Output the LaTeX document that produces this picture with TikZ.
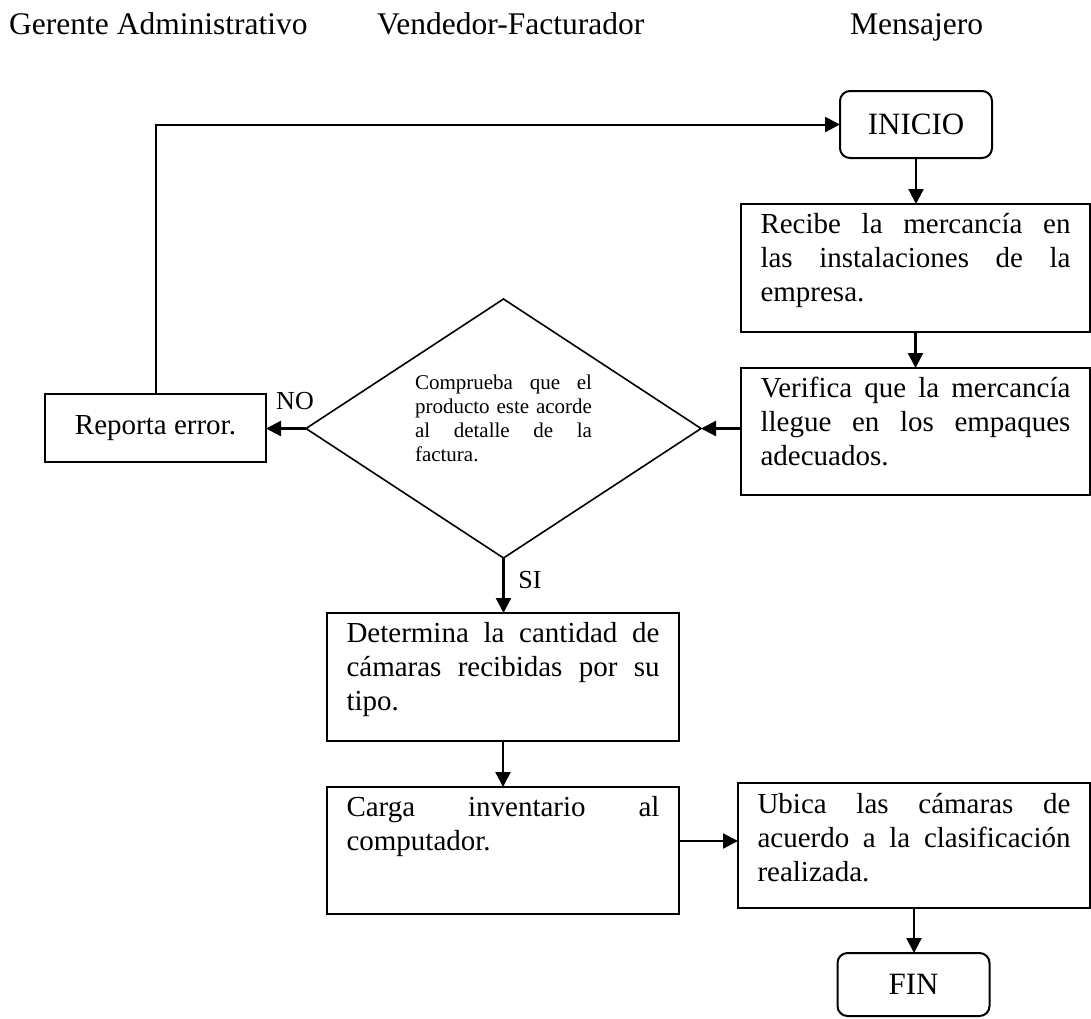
\documentclass[tikz,border=0pt]{standalone}
\usepackage{fontspec}
\setmainfont{Liberation Serif}
\usetikzlibrary{shapes.geometric,arrows.meta}
\newcommand{\boxfont}{\fontsize{29pt}{34pt}\selectfont}
\begin{document}
\begin{tikzpicture}[x=1pt,y=-1pt,
  procbox/.style={draw, line width=2pt, rectangle, align=justify, inner ysep=0pt,
    inner xsep=19.5pt, outer sep=0pt, anchor=north west, text width=#1, font=\boxfont},
  procbox/.default=310pt,
  terminal/.style={draw, line width=2pt, rounded corners=10pt, minimum width=152pt,
    inner sep=0pt, outer sep=0pt, font=\fontsize{31pt}{36pt}\selectfont},
  decision/.style={draw, diamond, line width=1.6pt, minimum width=395pt,
    minimum height=259pt, aspect=1.525, inner sep=0pt, outer sep=0pt,
    text width=177pt, align=justify, font=\fontsize{21pt}{24.3pt}\selectfont},
  flow/.style={line width=2.2pt, -{Triangle[length=15pt,width=15pt]}},
  lane/.style={anchor=base west, inner sep=0pt, font=\fontsize{31.5pt}{36pt}\selectfont},
  answer/.style={anchor=base, inner sep=0pt, font=\fontsize{26pt}{30pt}\selectfont}
]
\useasboundingbox (0,0) rectangle (1091,1018);

% column headings
\node[lane] (h1) at (9,34) {Gerente Administrativo};
\node[lane] (h2) at (377,34) {Vendedor-Facturador};
\node[lane] (h3) at (850,34) {Mensajero};

% start / end
\node[terminal, minimum height=67pt] (inicio) at (916,124.5) {INICIO};
\node[terminal, minimum height=63pt] (fin) at (913.5,984.5) {FIN};

% process steps
\node[procbox] (recibe) at (741,204)
  {\rule{0pt}{29pt}Recibe la mercancía en\linebreak las instalaciones de la\linebreak empresa.\rule[-31pt]{0pt}{31pt}};
\node[procbox] (verifica) at (741,368)
  {\rule{0pt}{29pt}Verifica que la mercancía\linebreak llegue en los empaques\linebreak adecuados.\rule[-30pt]{0pt}{30pt}};
\node[procbox=313pt] (determina) at (327,613)
  {\rule{0pt}{29pt}Determina la cantidad de\linebreak cámaras recibidas por su\linebreak tipo.\rule[-31pt]{0pt}{31pt}};
\node[procbox=313pt] (carga) at (327,787)
  {\rule{0pt}{29pt}Carga inventario al\linebreak computador.\rule[-64pt]{0pt}{64pt}};
\node[procbox=313pt] (ubica) at (738,783)
  {\rule{0pt}{30pt}Ubica las cámaras de\linebreak acuerdo a la clasificación\linebreak realizada.\rule[-27pt]{0pt}{27pt}};
\node[draw, line width=2pt, minimum width=221pt, minimum height=68pt, inner sep=0pt,
  outer sep=0pt, font=\boxfont] (reporta) at (155.5,428) {Reporta error.};

% decision
\node[decision] (check) at (503.5,428.5)
  {\rule{0pt}{18pt}Comprueba que el\linebreak producto este acorde\linebreak al detalle de la\linebreak factura.\rule[-24pt]{0pt}{24pt}};

% branch labels
\node[answer] (no) at (295,409) {NO};
\node[answer] (si) at (530,588) {SI};

% connectors
\coordinate (jn) at (0,841);
\draw[flow] (inicio.south) -- (inicio.south |- recibe.north);
\draw[flow] (recibe.south) -- (recibe.south |- verifica.north);
\draw[flow] (verifica.west |- check.east) -- (check.east);
\draw[flow] (check.west) -- (check.west -| reporta.east);
\draw[line width=2pt, -{Triangle[length=15pt,width=15pt]}] (reporta.north) |- (inicio.west);
\draw[flow] (check.south) -- (check.south |- determina.north);
\draw[flow] (determina.south) -- (carga.north);
\draw[flow] (carga.east |- jn) -- (ubica.west |- jn);
\draw[flow] (ubica.south) -- (ubica.south |- fin.north);
\end{tikzpicture}
\end{document}
